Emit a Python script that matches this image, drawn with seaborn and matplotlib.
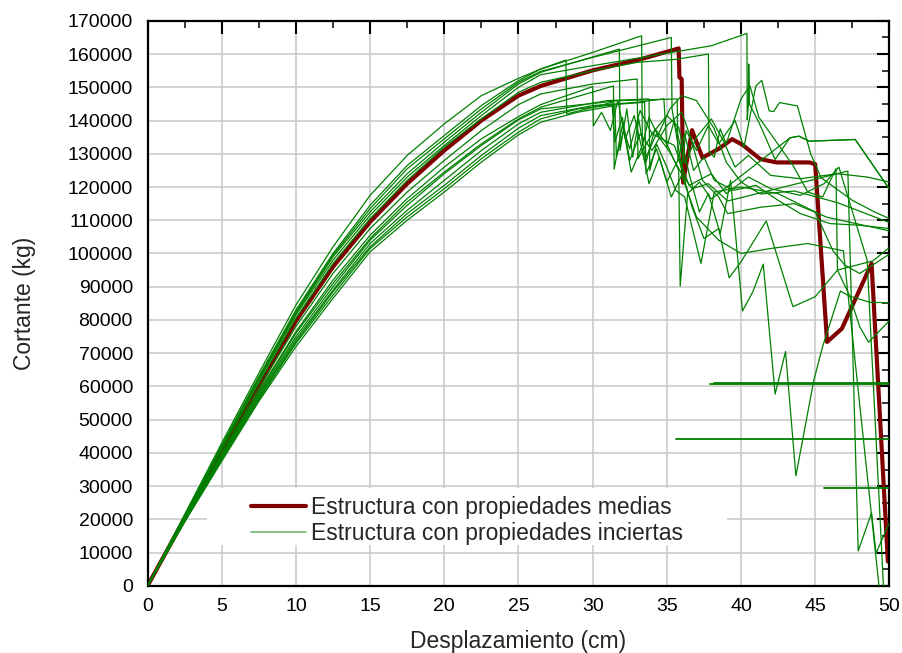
import numpy as np
import pandas as pd
import matplotlib
matplotlib.use("Agg")
import matplotlib.pyplot as plt
from matplotlib.lines import Line2D
from matplotlib.patches import Rectangle
from matplotlib.ticker import MultipleLocator, FuncFormatter
import seaborn as sns

# ---------------- datos ----------------
# tramo elástico común (cm)
x_ini = [0, 2.5, 5, 7.5, 10, 12.5, 15, 17.5, 20, 22.5, 25, 26.5]

# estructura con propiedades medias
media_x = x_ini + [30.0, 33.2, 35.8, 35.85, 36.0, 36.1, 36.7, 37.4, 38.5, 39.4, 40.1,
                   41.3, 42.4, 44.6, 45.0, 45.8, 46.8, 48.8, 49.9]
media_y = [0, 20300, 40300, 60000, 79700, 96000, 109500, 121000, 131000, 140000, 147500, 150400,
           155100, 158400, 161700, 153000, 152500, 121300, 137100, 128800, 131500, 134400, 132700,
           128400, 127400, 127400, 126900, 73400, 77400, 97000, 7300]

# estructuras con propiedades inciertas
inc_a_x = x_ini + [30.0, 33.3, 33.35, 33.8, 34.4, 35.2, 36.0, 37.0, 38.2, 39.0, 40.0, 41.3, 43.6, 46.5, 50.0]
inc_a_y = [0, 21500, 43000, 64000, 84500, 102000, 117500, 129500, 139000, 147500, 152700, 155500,
           160500, 165500, 132500, 141000, 135500, 143500, 147500, 146000, 137500, 127500, 121500,
           117900, 118800, 115300, 109300]

inc_b_x = x_ini + [30.0, 35.3, 35.35, 36.0, 36.3, 37.0, 37.8, 38.5, 39.6, 40.2, 41.0, 41.4, 41.9,
                   42.2, 42.6, 43.8, 44.7, 45.4, 47.5, 49.0, 50.0]
inc_b_y = [0, 21000, 42000, 62500, 82500, 99500, 113500, 125500, 134500, 143500, 151500, 154800,
           159000, 165000, 143500, 126000, 137000, 131000, 138500, 133000, 140000, 131900, 150400,
           152100, 142900, 142700, 145400, 144400, 129900, 122800, 116000, 112500, 110500]

inc_c_x = x_ini + [30.0, 38.0, 40.4, 40.42, 40.5, 40.52, 40.56, 41.2, 42.3, 43.3, 43.9, 44.6, 47.7, 50.0]
inc_c_y = [0, 20800, 41500, 61800, 81500, 98000, 111500, 123000, 132500, 141500, 150000, 153800,
           156500, 162500, 166200, 140200, 145000, 157000, 145000, 139500, 128300, 134800, 135300,
           133800, 134300, 119400]

inc_d_x = x_ini + [31.8, 31.85, 32.3, 32.7, 33.1, 33.6, 34.2, 35.0, 35.8, 35.9, 36.4, 37.2, 38.0,
                   43.3, 43.9, 44.6, 47.7, 50.0]
inc_d_y = [0, 21000, 41800, 62200, 82000, 99000, 112500, 124000, 133500, 142500, 151000, 154500,
           161500, 131000, 143500, 129000, 140500, 127500, 137500, 133000, 125000, 90200, 118000,
           121500, 116400, 134800, 135300, 133800, 134300, 119400]

inc_f_x = x_ini + [28.2, 28.25, 30.5, 31.3, 31.5, 32.0, 32.5, 33.2, 34.0, 35.0, 36.0, 36.6, 37.4,
                   38.5, 39.1, 41.3, 43.6, 45.8, 50.0]
inc_f_y = [0, 21200, 42300, 63000, 83000, 100000, 114500, 126500, 135500, 144500, 152000, 155500,
           158200, 142000, 144500, 145500, 133500, 141000, 128000, 136000, 131000, 138500, 142500,
           135000, 122000, 117000, 112000, 113900, 115000, 110900, 106800]

inc_m_x = x_ini + [30.0, 33.0, 35.6, 37.8, 37.85, 38.2, 38.6, 39.0, 40.0, 40.6, 41.2, 42.0, 43.5,
                   44.5, 45.5, 46.4, 46.5, 47.3, 48.0, 48.6, 50.0]
inc_m_y = [0, 20600, 41000, 61000, 80500, 97000, 110500, 122000, 132000, 140500, 148500, 151500,
           155000, 157500, 158400, 160000, 130600, 129000, 137500, 133000, 146500, 150500, 141000,
           136000, 126500, 118500, 117000, 125500, 95000, 87500, 78000, 73300, 79800]

inc_g_x = x_ini + [30.0, 30.05, 30.6, 31.2, 31.7, 32.2, 32.8, 33.5, 34.3, 35.2, 36.0, 36.7, 37.8,
                   39.1, 47.2, 47.9, 48.8, 49.1, 50.0]
inc_g_y = [0, 20000, 39500, 58500, 76500, 92000, 105500, 116500, 126000, 134500, 141200, 144800,
           150200, 138400, 142500, 137000, 146000, 134500, 141500, 128000, 136000, 130500, 124000,
           119500, 121000, 115800, 124800, 10500, 22000, 9800, 19000]

inc_h_x = x_ini + [31.4, 31.45, 32.0, 32.5, 33.2, 34.0, 35.0, 35.8, 36.5, 37.2, 37.8, 38.6, 39.3,
                   40.1, 40.8, 41.5, 42.3, 43.0, 43.7, 44.9, 45.5, 46.7, 47.3, 48.7, 50.0]
inc_h_y = [0, 19900, 39200, 58000, 76000, 91000, 104500, 115500, 124500, 133000, 140500, 144000,
           150400, 125400, 138500, 131500, 143000, 136000, 141500, 138000, 124000, 112500, 118000,
           106000, 122000, 82700, 88500, 96800, 57700, 70500, 33100, 61700, 72000, 88700, 87200,
           85300, 85200]

inc_i_x = x_ini + [31.8, 35.7, 35.75, 36.2, 36.8, 37.5, 38.2, 39.5, 41.0, 42.5, 44.0, 46.0, 48.0, 50.0]
inc_i_y = [0, 19800, 39000, 57500, 75000, 90000, 104000, 114500, 124000, 132500, 140200, 143500,
           146000, 146500, 128000, 136000, 125000, 129000, 122000, 119000, 120500, 116000, 112000,
           109000, 108500, 107500]

inc_j_x = x_ini + [30.0, 33.0, 34.8, 35.0, 35.5, 36.2, 37.0, 38.0, 38.8, 39.6, 40.5, 42.0, 44.0,
                   46.5, 48.5, 50.0]
inc_j_y = [0, 19500, 38200, 56500, 73500, 88500, 102000, 112000, 120500, 129500, 137700, 141500,
           144500, 145500, 146500, 132000, 140000, 127000, 135000, 140500, 134000, 126000, 129500,
           123500, 122500, 124000, 123000, 121500]

inc_k_x = x_ini + [29.0, 31.5, 31.6, 32.1, 32.6, 33.3, 33.8, 34.5, 35.3, 36.0, 37.0, 38.5, 40.0,
                   42.0, 44.5, 46.9, 49.3]
inc_k_y = [0, 19200, 37500, 55500, 72000, 86500, 100500, 110000, 118500, 127500, 135700, 139500,
           142500, 144500, 129000, 137000, 124500, 132000, 121000, 129000, 117000, 123500, 111000,
           104000, 100000, 101500, 103000, 100800, 0]

inc_l_x = x_ini + [29.0, 32.0, 33.5, 33.6, 34.3, 35.0, 35.8, 36.7, 37.5, 38.5, 39.2, 40.0, 41.7,
                   43.5, 45.0, 46.5, 48.9, 50.0]
inc_l_y = [0, 19400, 38000, 56000, 73000, 87500, 101500, 111000, 119500, 128500, 136500, 140500,
           143500, 145000, 145500, 124000, 131500, 121500, 128500, 114000, 104500, 107500, 92700,
           97500, 109800, 84000, 87000, 95000, 97800, 101800]

inc_n_x = x_ini + [31.0, 33.8, 33.85, 34.3, 35.0, 35.6, 36.2, 37.3, 38.2, 40.0, 42.5, 45.0, 46.2,
                   47.0, 48.0, 50.0]
inc_n_y = [0, 19600, 38600, 57000, 74200, 89000, 103000, 113000, 122000, 131000, 139000, 142500,
           146000, 146500, 125000, 133000, 126000, 119000, 117000, 97000, 118500, 120000, 118000,
           112500, 100800, 96500, 94000, 99800]

inc_p_x = x_ini + [30.0, 32.0, 33.0, 33.05, 34.0, 35.5, 36.5, 38.0, 39.0, 40.5, 42.0, 44.0, 45.6,
                   46.6, 48.5, 49.6]
inc_p_y = [0, 20200, 40000, 59500, 78000, 94000, 107500, 118500, 128000, 137000, 144800, 148000,
           151000, 152000, 152500, 128500, 136000, 132500, 120500, 124000, 118000, 123000, 119500,
           117500, 121000, 126000, 98000, 0]

# tramos residuales horizontales
res_x = [[37.9, 50.0], [38.2, 50.0], [35.6, 50.0], [45.6, 50.0]]
res_y = [[60800, 60800], [61000, 61000], [44200, 44200], [29300, 29300]]

curvas_inciertas = [
    (inc_a_x, inc_a_y), (inc_b_x, inc_b_y), (inc_c_x, inc_c_y), (inc_d_x, inc_d_y),
    (inc_f_x, inc_f_y), (inc_m_x, inc_m_y), (inc_g_x, inc_g_y), (inc_h_x, inc_h_y),
    (inc_i_x, inc_i_y), (inc_j_x, inc_j_y), (inc_k_x, inc_k_y), (inc_l_x, inc_l_y),
    (inc_n_x, inc_n_y), (inc_p_x, inc_p_y),
]

leyenda = ["Estructura con propiedades medias", "Estructura con propiedades inciertas"]

# ---------------- tablas ----------------
filas = []
for k, (xs, ys) in enumerate(curvas_inciertas):
    for xv, yv in zip(xs, ys):
        filas.append({"curva": k, "x": xv, "y": yv})
df_inc = pd.DataFrame(filas)

filas_res = []
for k, (xs, ys) in enumerate(zip(res_x, res_y)):
    for xv, yv in zip(xs, ys):
        filas_res.append({"curva": k, "x": xv, "y": yv})
df_res = pd.DataFrame(filas_res)

df_media = pd.DataFrame({"x": media_x, "y": media_y})

# ---------------- estilo ----------------
sns.set_theme(style="whitegrid")
plt.rcParams["font.family"] = ["Liberation Sans", "DejaVu Sans"]
plt.rcParams["font.size"] = 14

ROJO = "#800000"
VERDE = "#008000"

fig = plt.figure(figsize=(9.02, 6.53), dpi=100)
ax = fig.add_axes([0.1636, 0.1028, 0.8224, 0.8653])

sns.lineplot(data=df_media, x="x", y="y", sort=False, estimator=None,
             color=ROJO, lw=3.0, ax=ax, zorder=2)
sns.lineplot(data=df_inc, x="x", y="y", units="curva", sort=False, estimator=None,
             color=VERDE, lw=0.9, ax=ax, zorder=3)
sns.lineplot(data=df_res, x="x", y="y", units="curva", sort=False, estimator=None,
             color=VERDE, lw=1.3, ax=ax, zorder=3)

ax.set_xlim(0, 50)
ax.set_ylim(0, 170000)
ax.xaxis.set_major_locator(MultipleLocator(5))
ax.xaxis.set_minor_locator(MultipleLocator(2.5))
ax.yaxis.set_major_locator(MultipleLocator(10000))
ax.yaxis.set_minor_locator(MultipleLocator(5000))
ax.yaxis.set_major_formatter(FuncFormatter(lambda v, p: f"{int(round(v))}"))
ax.xaxis.set_major_formatter(FuncFormatter(lambda v, p: f"{int(round(v))}"))

ax.grid(True, which="major", color="#c8c8c8", lw=1.1)
ax.set_axisbelow(True)
for s in ax.spines.values():
    s.set_color("black")
    s.set_linewidth(1.6)

ax.tick_params(which="major", direction="in", length=9, width=1.5, top=True, right=True,
               labelsize=14, colors="black")
ax.tick_params(which="minor", direction="in", length=5, width=1.3, top=True, right=True)
ax.tick_params(axis="y", which="major", pad=10.5)
ax.tick_params(axis="x", which="major", pad=8.5)

ax.set_xlabel("Desplazamiento (cm)", fontsize=16.5, labelpad=11)
ax.set_ylabel("Cortante (kg)", fontsize=16.5, labelpad=23)

# fondo blanco de la leyenda
ax.add_patch(Rectangle((0.080, 0.0724), 0.701, 0.1008, transform=ax.transAxes,
                       facecolor="white", edgecolor="none", zorder=1.5))

handles = [Line2D([], [], color=ROJO, lw=3.0, solid_capstyle="round"),
           Line2D([], [], color=VERDE, lw=1.2, alpha=0.55)]
leg = ax.legend(handles, leyenda, loc="upper left", bbox_to_anchor=(0.140, 0.1594),
                frameon=False, fontsize=16.5, handlelength=2.36, handletextpad=0.26,
                labelspacing=0.15, borderpad=0.0, borderaxespad=0.0)
leg.set_zorder(5)

fig.savefig("out.png", dpi=100)
